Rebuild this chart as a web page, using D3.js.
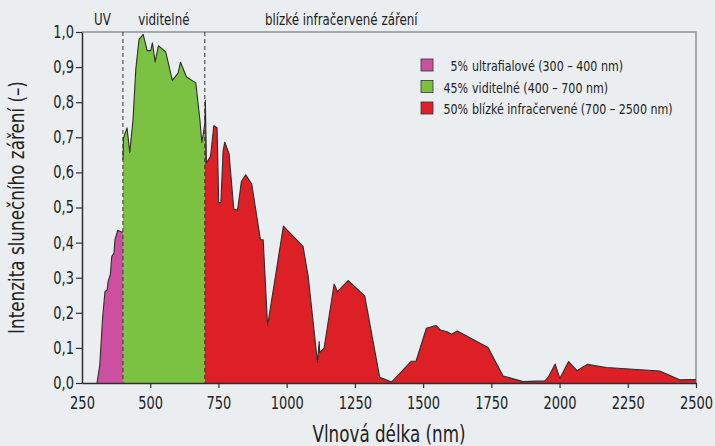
<!DOCTYPE html>
<html>
<head>
<meta charset="utf-8">
<script src="https://d3js.org/d3.v7.min.js"></script>
<style>
  body { margin: 0; background: #eaeef1; }
  svg { display: block; font-family: "Liberation Sans Narrow", "DejaVu Sans Condensed", sans-serif; }
</style>
</head>
<body>
<svg width="715" height="446"></svg>
<script>

  // Spectrum (wavelength nm / relative intensity)
  const uvNm  = [305, 315, 325, 334, 342, 346, 354, 359, 367, 371, 381, 395, 400];
  const uvVal = [0, 0.05, 0.18, 0.26, 0.265, 0.29, 0.31, 0.36, 0.37, 0.41, 0.435, 0.43, 0.43];

  const visNm  = [400, 402, 415, 425, 437, 447, 459, 474, 489, 502, 508, 518, 530, 557, 581, 602, 611, 633, 667, 682, 689, 694, 700];
  const visVal = [0.636, 0.698, 0.727, 0.657, 0.75, 0.893, 0.979, 0.993, 0.947, 0.947, 0.969, 0.915, 0.961, 0.943, 0.862, 0.883, 0.914, 0.872, 0.855, 0.75, 0.686, 0.707, 0.74];

  const nirNm  = [700, 702, 706, 721, 733, 745, 751, 759, 767, 773, 789, 806, 820, 834, 850, 872, 904, 914, 930, 988,
                  1060, 1079, 1113, 1119, 1121, 1137, 1174, 1186, 1225, 1286, 1341, 1385, 1457, 1474, 1512, 1547, 1563, 1588, 1604, 1625,
                  1738, 1793, 1866, 1946, 1958, 1984, 2001, 2033, 2064, 2101, 2172, 2367, 2440, 2500];
  const nirVal = [0.74, 0.805, 0.627, 0.646, 0.733, 0.727, 0.514, 0.514, 0.66, 0.686, 0.653, 0.496, 0.492, 0.574, 0.593, 0.567, 0.408, 0.408, 0.163, 0.447,
                  0.389, 0.303, 0.058, 0.118, 0.087, 0.099, 0.282, 0.26, 0.292, 0.248, 0.016, 0.003, 0.062, 0.062, 0.156, 0.164, 0.151, 0.146, 0.139, 0.148,
                  0.101, 0.02, 0.004, 0.006, 0.016, 0.054, 0.013, 0.061, 0.035, 0.053, 0.044, 0.034, 0.009, 0.01];

  const bandNames   = ['UV', 'viditelné', 'blízké infračervené záření'];
  const bandLimits  = [400, 700];
  const legendPct   = ['5%', '45%', '50%'];
  const legendText  = ['ultrafialové (300 – 400 nm)', 'viditelné (400 – 700 nm)', 'blízké infračervené (700 – 2500 nm)'];
  const bandColors  = ['#cc4fa0', '#7bc142', '#dd1f26'];

  const xTicks = [250, 500, 750, 1000, 1250, 1500, 1750, 2000, 2250, 2500];
  const yTicks = [0, 0.1, 0.2, 0.3, 0.4, 0.5, 0.6, 0.7, 0.8, 0.9, 1.0];

  const svg = d3.select('svg');
  const plotL = 82, plotR = 696, plotT = 32, plotB = 383;

  const x = d3.scaleLinear().domain([250, 2500]).range([plotL, plotR]);
  const y = d3.scaleLinear().domain([0, 1]).range([plotB, plotT]);

  // the original font is narrow, so squeeze text horizontally
  function label(px, py, txt, size, sx, anchor, rot) {
    return svg.append('text')
      .attr('transform', `translate(${px},${py})` + (rot ? ` rotate(${rot})` : '') + ` scale(${sx},1)`)
      .attr('text-anchor', anchor || 'start')
      .style('font-size', size + 'px')
      .style('fill', '#222')
      .text(txt);
  }

  // frame (top and right)
  svg.append('path')
    .attr('d', `M${plotL},${plotT}H${plotR}V${plotB}`)
    .attr('fill', 'none')
    .attr('stroke', '#8c9397')
    .attr('stroke-width', 1.5);

  const series = [
    uvNm.map((d, i) => [d, uvVal[i]]),
    visNm.map((d, i) => [d, visVal[i]]),
    nirNm.map((d, i) => [d, nirVal[i]])
  ];

  const area = d3.area().x(d => x(d[0])).y0(y(0)).y1(d => y(d[1]));
  const line = d3.line().x(d => x(d[0])).y(d => y(d[1]));

  series.forEach((s, i) => {
    svg.append('path')
      .attr('d', area(s))
      .attr('fill', bandColors[i]);
    svg.append('path')
      .attr('d', line(s))
      .attr('fill', 'none')
      .attr('stroke', '#2e2e2e')
      .attr('stroke-width', 1.1)
      .attr('stroke-linejoin', 'round');
  });

  // band borders
  bandLimits.forEach(b => {
    svg.append('line')
      .attr('x1', x(b)).attr('x2', x(b))
      .attr('y1', plotT).attr('y2', plotB)
      .attr('stroke', '#333')
      .attr('stroke-width', 1)
      .attr('stroke-dasharray', '4,3');
  });

  // band labels above the plot
  const labelX = [x(325), x(550), x(1200)];
  bandNames.forEach((n, i) => label(labelX[i], 25, n, 15, 0.88, 'middle'));

  // axes
  const comma = d => d3.format('.1f')(d).replace('.', ',');
  const yAxis = svg.append('g')
    .attr('transform', `translate(${plotL},0)`)
    .call(d3.axisLeft(y).tickValues(yTicks).tickFormat(comma).tickSizeInner(6).tickSizeOuter(0).tickPadding(2));
  const xAxis = svg.append('g')
    .attr('transform', `translate(0,${plotB})`)
    .call(d3.axisBottom(x).tickValues(xTicks).tickFormat(d3.format('d')).tickSizeInner(5).tickSizeOuter(0).tickPadding(9));

  [xAxis, yAxis].forEach(g => {
    g.select('.domain').attr('stroke', '#2e2e2e').attr('stroke-width', 1.5);
    g.selectAll('.tick line').attr('stroke', '#2e2e2e').attr('stroke-width', 1.2);
    g.selectAll('.tick text').each(function() {
      const t = d3.select(this);
      const tx = +t.attr('x') || 0, ty = +t.attr('y') || 0;
      t.attr('x', null).attr('y', null)
        .attr('transform', `translate(${tx},${ty}) scale(0.85,1)`)
        .style('font-family', '"Liberation Sans Narrow", "DejaVu Sans Condensed", sans-serif')
        .style('font-size', '17px')
        .style('fill', '#222');
    });
  });
  xAxis.selectAll('.tick').filter(d => d === 250).select('line').remove();

  // axis titles
  label((plotL + plotR) / 2, 442, 'Vlnová délka (nm)', 23, 0.81, 'middle');
  label(24, (plotT + plotB) / 2, 'Intenzita slunečního záření (–)', 21, 0.89, 'middle', -90);

  // legend
  legendText.forEach((t, i) => {
    const ly = 59 + i * 21.5;
    svg.append('rect')
      .attr('x', 421).attr('y', ly)
      .attr('width', 12).attr('height', 12)
      .attr('fill', bandColors[i])
      .attr('stroke', '#333')
      .attr('stroke-width', 0.8);
    label(468, ly + 12, legendPct[i], 14, 0.88, 'end');
    label(472, ly + 12, t, 14, 0.88);
  });

</script>
</body>
</html>
